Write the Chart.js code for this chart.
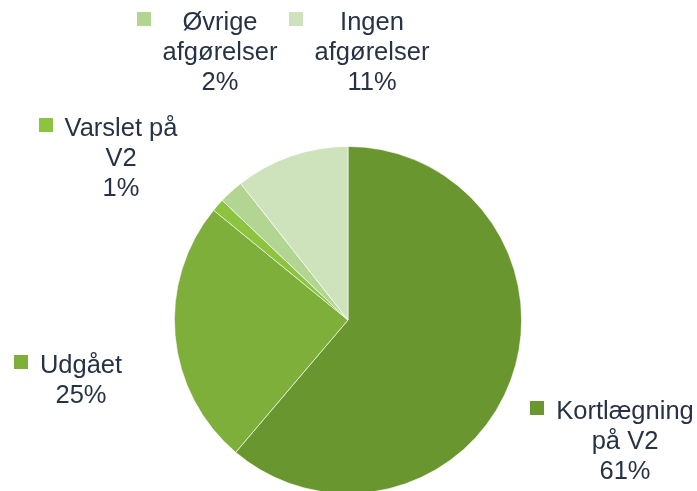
<!DOCTYPE html>
<html>
<head>
<meta charset="utf-8">
<script src="https://cdn.jsdelivr.net/npm/chart.js@4/dist/chart.umd.min.js"></script>
<style>
html,body{margin:0;padding:0;background:#fff;overflow:hidden;}
#wrap{width:697px;height:500px;position:relative;}
</style>
</head>
<body>
<div id="wrap"><canvas id="c" width="697" height="500"></canvas></div>
<script>
// Data
const categories = ["Kortlægning på V2", "Udgået", "Varslet på V2", "Øvrige afgørelser", "Ingen afgørelser"];
const labelLines = [["Kortlægning", "på V2"], ["Udgået"], ["Varslet på", "V2"], ["Øvrige", "afgørelser"], ["Ingen", "afgørelser"]];
const values = [61.2, 24.7, 1.2, 2.3, 10.6];
const colors = ["#6a962f", "#7daf3a", "#8cc43f", "#b2d591", "#cee3bb"];

// label layout (offset from pie centre, px): text centre x, first baseline y
const labelOffsets = [[277, 99], [-267, 53], [-227, -184], [-128, -290], [24, -290]];

const labelPlugin = {
  id: 'pieLabels',
  afterDraw(chart) {
    const ctx = chart.ctx;
    const meta = chart.getDatasetMeta(0);
    const arc0 = meta.data[0];
    const cx = arc0.x, cy = arc0.y;
    const total = values.reduce((a, b) => a + b, 0);
    ctx.save();
    ctx.font = '25.5px "Liberation Sans", Arial, sans-serif';
    ctx.fillStyle = '#283245';
    ctx.textAlign = 'center';
    ctx.textBaseline = 'alphabetic';
    const lh = 30;
    values.forEach((v, i) => {
      const lines = labelLines[i].concat([Math.round(v / total * 100) + '%']);
      const tx = cx + labelOffsets[i][0];
      const ty = cy + labelOffsets[i][1];
      let maxW = 0;
      lines.forEach((ln, k) => {
        ctx.fillText(ln, tx, ty + k * lh);
        maxW = Math.max(maxW, ctx.measureText(ln).width);
      });
      const sz = 14;
      ctx.fillStyle = colors[i];
      ctx.fillRect(Math.round(tx - maxW / 2 - 12 - sz), Math.round(ty - 18), sz, sz);
      ctx.fillStyle = '#283245';
    });
    ctx.restore();
  }
};

new Chart(document.getElementById('c'), {
  type: 'pie',
  data: {
    labels: categories,
    datasets: [{
      data: values,
      backgroundColor: colors,
      borderColor: 'rgba(255,255,255,0.8)',
      borderWidth: 0.8
    }]
  },
  options: {
    responsive: false,
    animation: false,
    layout: { padding: { left: 174, right: 175, top: 146, bottom: 6 } },
    plugins: { legend: { display: false }, tooltip: { enabled: false } }
  },
  plugins: [labelPlugin]
});
</script>
</body>
</html>
